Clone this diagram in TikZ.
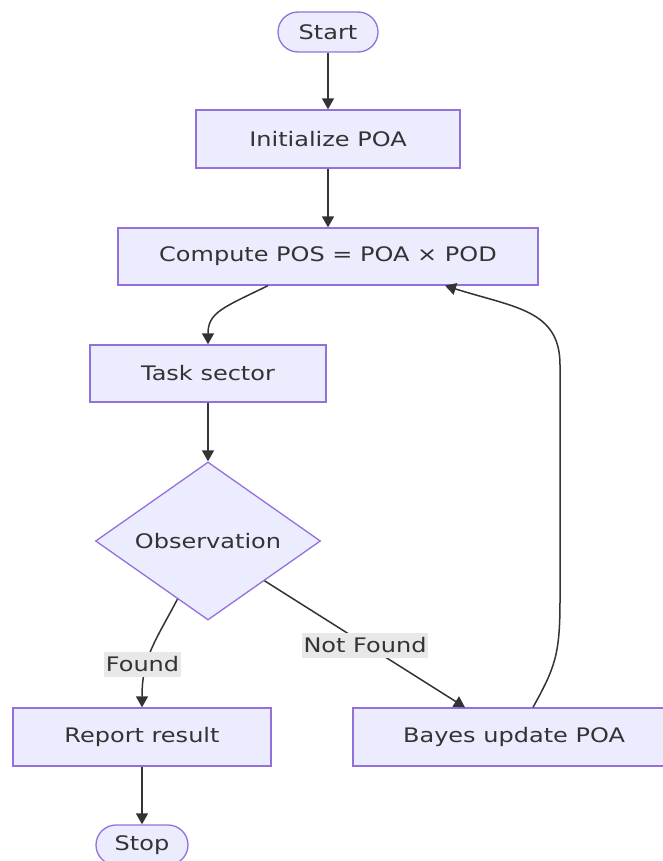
\documentclass[tikz,border=0pt]{standalone}
\usepackage{fontspec}
\setmainfont[FakeStretch=1.2]{DejaVu Sans}
\usetikzlibrary{shapes.geometric,arrows.meta,calc}
\definecolor{nodefill}{HTML}{ECECFF}
\definecolor{nodeline}{HTML}{9370DB}
\definecolor{edgecol}{HTML}{333333}
\definecolor{lblbg}{HTML}{E8E8E8}
\begin{document}
\begin{tikzpicture}[x=1pt,y=-1pt,
  font=\fontsize{20}{23}\selectfont,
  base/.style={draw=nodeline,fill=nodefill,line width=1.3pt,text=edgecol,inner sep=0pt},
  proc/.style={base,rectangle,minimum height=58pt},
  term/.style={base,rectangle,rounded corners=20pt,minimum height=40pt},
  dec/.style={base,diamond,aspect=1.42,minimum width=225pt,minimum height=158pt},
  arr/.style={draw=edgecol,line width=1.5pt,-{Triangle[length=11pt,width=12pt]}},
  lbl/.style={fill=lblbg,text=edgecol,inner sep=2pt,minimum height=25pt}]
\useasboundingbox (0,0) rectangle (662,861);
\node[term,minimum width=100pt] (start) at (328,32) {Start};
\node[proc,minimum width=264pt] (init) at (328,139) {Initialize POA};
\node[proc,minimum width=420pt,minimum height=57pt] (comp) at (328,256.5) {Compute POS = POA × POD};
\node[proc,minimum width=236pt,minimum height=57pt] (task) at (208,373.5) {Task sector};
\node[dec] (obs) at (208,541) {Observation};
\node[proc,minimum width=258pt] (report) at (142,737) {Report result};
\node[proc,minimum width=322pt] (bayes) at (514,737) {Bayes update POA};
\node[term,minimum width=92pt] (stop) at (142,845) {Stop};

\draw[arr] (start) -- (init);
\draw[arr] (init) -- (comp);
\draw[arr] ([xshift=-60pt]comp.south) .. controls +(-45,22) and +(0,-32) .. (task.north);
\draw[arr] (task) -- (obs);
\draw[arr] ($(obs.south)!0.27!(obs.west)$) .. controls +(-22,42) and +(0,-50) .. (report.north);
\draw[arr] ($(obs.east)!0.5!(obs.south)$) -- ([xshift=-49pt]bayes.north);
\draw[arr] ([xshift=19pt]bayes.north) .. controls +(22,-40) and +(0,55) .. (560,600) -- (560,365) .. controls +(0,-55) and +(70,22) .. ([xshift=117pt]comp.south);
\draw[arr] (report) -- (stop);

\node[lbl] (lfound) at (142.5,664.5) {Found};
\node[lbl] (lnot) at (365,645) {Not Found};
\end{tikzpicture}
\end{document}
